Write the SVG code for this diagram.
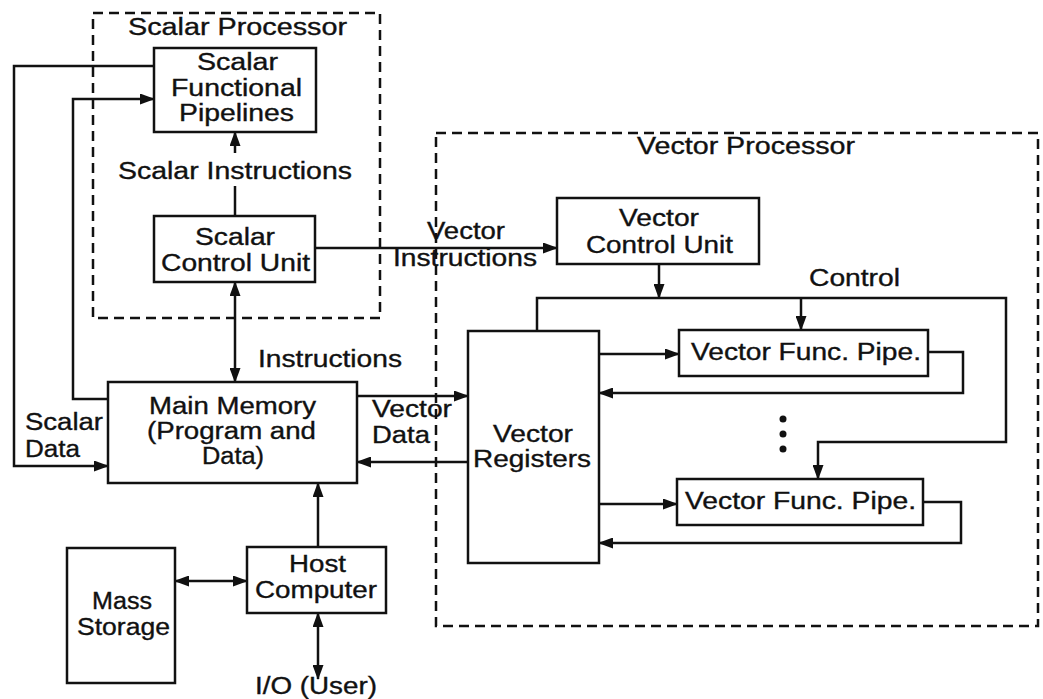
<svg xmlns="http://www.w3.org/2000/svg" width="1043" height="699" viewBox="0 0 1043 699">
<style>
.box{fill:#fff;stroke:#111;stroke-width:2.5}
.dash{fill:none;stroke:#111;stroke-width:2.5;stroke-dasharray:10 6}
.ln{fill:none;stroke:#111;stroke-width:2.5}
.arr{marker-end:url(#ah)}
.bi{marker-start:url(#ah);marker-end:url(#ah)}
text{font-family:"Liberation Sans",Arial,sans-serif;font-size:23px;fill:#111;stroke:#111;stroke-width:0.35}
</style>
<defs>
<marker id="ah" markerUnits="userSpaceOnUse" markerWidth="15" markerHeight="11" refX="14" refY="5.5" orient="auto-start-reverse">
<path d="M0,0 L15,5.5 L0,11 z" fill="#111"/>
</marker>
</defs>
<rect width="1043" height="699" fill="#fff"/>

<g id="scalar-processor">
<rect class="dash" x="93" y="13" width="287" height="305"/>
<text x="128" y="35" textLength="219" lengthAdjust="spacingAndGlyphs">Scalar Processor</text>
</g>
<g id="vector-processor">
<rect class="dash" x="436" y="133" width="602" height="493"/>
<text x="637" y="154" textLength="218" lengthAdjust="spacingAndGlyphs">Vector Processor</text>
</g>

<g id="connectors">
<path class="ln" d="M235,216 V186"/>
<path class="ln arr" d="M235,153 V132"/>
<path class="ln arr" d="M315,248 H557"/>
<path class="ln bi" d="M235,282 V382"/>
<path class="ln arr" d="M154,66 H14 V466 H108"/>
<path class="ln arr" d="M108,399 H73 V99 H154"/>
<path class="ln arr" d="M357,396 H468"/>
<path class="ln arr" d="M468,462 H357"/>
<path class="ln arr" d="M318,547 V483"/>
<path class="ln bi" d="M175,581 H247"/>
<path class="ln bi" d="M318,613 V679"/>
<path class="ln arr" d="M659,264 V298"/>
<path class="ln arr" d="M537,331 V298 H1006 V442 H818 V479"/>
<path class="ln arr" d="M801,298 V330"/>
<path class="ln arr" d="M599,354 H679"/>
<path class="ln arr" d="M928,352 H963 V393 H599"/>
<path class="ln arr" d="M599,504 H677"/>
<path class="ln arr" d="M923,502 H961 V543 H599"/>
<circle cx="783" cy="419" r="3.5" fill="#111"/>
<circle cx="783" cy="434" r="3.5" fill="#111"/>
<circle cx="783" cy="449" r="3.5" fill="#111"/>
<text x="118" y="179" textLength="234" lengthAdjust="spacingAndGlyphs">Scalar Instructions</text>
<text x="427" y="239" textLength="78" lengthAdjust="spacingAndGlyphs">Vector</text>
<text x="393" y="266" textLength="144" lengthAdjust="spacingAndGlyphs">Instructions</text>
<text x="258" y="367" textLength="144" lengthAdjust="spacingAndGlyphs">Instructions</text>
<text x="372" y="417" textLength="80" lengthAdjust="spacingAndGlyphs">Vector</text>
<text x="372" y="443" textLength="58" lengthAdjust="spacingAndGlyphs">Data</text>
<text x="25" y="430" textLength="78" lengthAdjust="spacingAndGlyphs">Scalar</text>
<text x="25" y="457" textLength="55" lengthAdjust="spacingAndGlyphs">Data</text>
<text x="809" y="286" textLength="91" lengthAdjust="spacingAndGlyphs">Control</text>
<text x="255" y="694" textLength="122" lengthAdjust="spacingAndGlyphs">I/O (User)</text>
</g>

<g id="scalar-functional-pipelines">
<rect class="box" x="154" y="48" width="162" height="84"/>
<text x="197" y="70" textLength="81" lengthAdjust="spacingAndGlyphs">Scalar</text>
<text x="171" y="96" textLength="131" lengthAdjust="spacingAndGlyphs">Functional</text>
<text x="179" y="121" textLength="115" lengthAdjust="spacingAndGlyphs">Pipelines</text>
</g>
<g id="scalar-control-unit">
<rect class="box" x="154" y="216" width="161" height="66"/>
<text x="195" y="245" textLength="80" lengthAdjust="spacingAndGlyphs">Scalar</text>
<text x="161" y="271" textLength="149" lengthAdjust="spacingAndGlyphs">Control Unit</text>
</g>
<g id="main-memory">
<rect class="box" x="108" y="382" width="249" height="101"/>
<text x="149" y="414" textLength="167" lengthAdjust="spacingAndGlyphs">Main Memory</text>
<text x="147" y="439" textLength="169" lengthAdjust="spacingAndGlyphs">(Program and</text>
<text x="202" y="464" textLength="62" lengthAdjust="spacingAndGlyphs">Data)</text>
</g>
<g id="host-computer">
<rect class="box" x="247" y="547" width="139" height="66"/>
<text x="289" y="572" textLength="57" lengthAdjust="spacingAndGlyphs">Host</text>
<text x="255" y="598" textLength="122" lengthAdjust="spacingAndGlyphs">Computer</text>
</g>
<g id="mass-storage">
<rect class="box" x="67" y="548" width="108" height="135"/>
<text x="92" y="609" textLength="60" lengthAdjust="spacingAndGlyphs">Mass</text>
<text x="77" y="635" textLength="93" lengthAdjust="spacingAndGlyphs">Storage</text>
</g>
<g id="vector-control-unit">
<rect class="box" x="557" y="198" width="202" height="66"/>
<text x="619" y="226" textLength="80" lengthAdjust="spacingAndGlyphs">Vector</text>
<text x="586" y="253" textLength="147" lengthAdjust="spacingAndGlyphs">Control Unit</text>
</g>
<g id="vector-registers">
<rect class="box" x="468" y="331" width="131" height="232"/>
<text x="493" y="442" textLength="80" lengthAdjust="spacingAndGlyphs">Vector</text>
<text x="473" y="467" textLength="118" lengthAdjust="spacingAndGlyphs">Registers</text>
</g>
<g id="vector-func-pipe-1">
<rect class="box" x="679" y="330" width="249" height="46"/>
<text x="691" y="360" textLength="230" lengthAdjust="spacingAndGlyphs">Vector Func. Pipe.</text>
</g>
<g id="vector-func-pipe-2">
<rect class="box" x="677" y="479" width="246" height="46"/>
<text x="685" y="509" textLength="231" lengthAdjust="spacingAndGlyphs">Vector Func. Pipe.</text>
</g>
</svg>
